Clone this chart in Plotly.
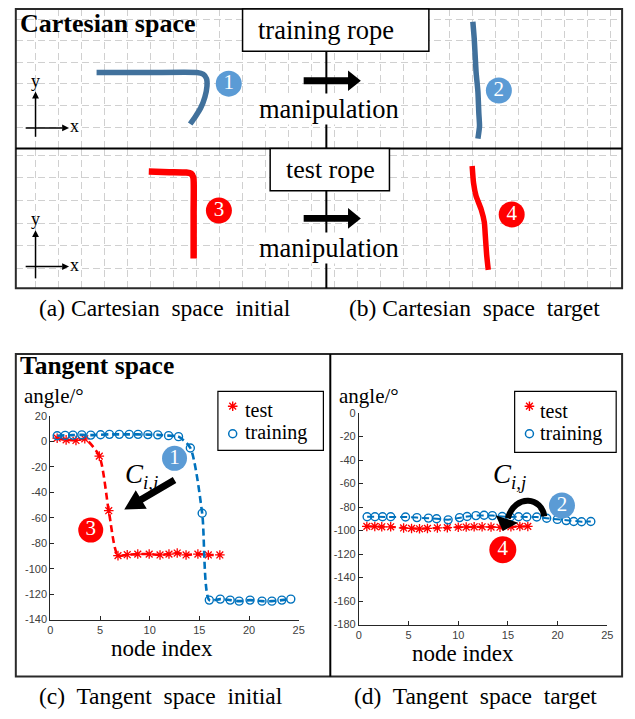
import math
import plotly.graph_objects as go

W, H = 635, 719

# ---------------- data ----------------
# Cartesian space ropes (grid-cell units, x to the right, y downward)
train_init_x = [2.64, 5.00, 7.00, 7.28, 7.42, 7.44, 7.35, 7.17, 6.94, 6.71]
train_init_y = [2.47, 2.47, 2.47, 2.55, 2.75, 3.10, 3.60, 4.10, 4.50, 4.85]
train_target_x = [19.00, 19.06, 19.14, 19.22, 19.26, 19.29, 19.22]
train_target_y = [0.12, 0.90, 2.44, 3.35, 4.35, 4.95, 5.53]
test_init_x = [4.91, 5.80, 6.54, 6.75, 6.85, 6.86, 6.86]
test_init_y = [0.72, 0.75, 0.77, 0.82, 1.00, 2.50, 4.57]
test_target_x = [18.97, 19.03, 19.14, 19.36, 19.50, 19.54, 19.60, 19.67]
test_target_y = [0.48, 1.23, 1.81, 2.39, 2.97, 3.53, 4.40, 5.07]

# Tangent space initial (c)
c_test_x = [0.69, 1.59, 2.58, 3.47, 4.93, 5.88, 6.81, 7.74, 8.80, 9.95, 11.04,
            11.94, 12.77, 13.66, 14.85, 15.90, 17.06]
c_test_y = [2.6, 1.3, 0.8, 2.1, -11.5, -54.4, -89.7, -89.0, -88.5, -88.5, -89.2,
            -88.5, -87.7, -89.2, -88.5, -89.2, -89.2]
c_train_x = [0.69, 1.49, 2.28, 3.17, 4.07, 5.06, 5.95, 6.94, 7.94, 8.83, 9.82,
             10.81, 11.90, 12.90, 14.09, 15.28, 16.00, 17.10, 18.10, 19.00,
             20.10, 21.30, 22.30, 23.30, 24.20]
c_train_y = [4.5, 4.8, 5.0, 5.2, 5.0, 5.3, 5.6, 5.6, 5.6, 5.6, 5.4, 5.2, 4.6,
             3.8, -5.1, -56.4, -124.7, -123.9, -124.7, -125.5, -124.7, -125.5,
             -125.5, -124.7, -123.9]

# Tangent space target (d)
d_test_x = [0.8, 1.6, 2.3, 3.2, 4.5, 5.3, 6.1, 6.9, 7.9, 8.9, 10.0, 10.8, 11.6,
            12.4, 13.3, 14.2, 15.3, 16.2, 17.0]
d_test_y = [-96.5, -96.5, -96.8, -96.8, -97.8, -98.2, -98.5, -98.2, -97.8,
            -97.5, -97.2, -97.0, -96.8, -96.8, -97.0, -97.2, -96.8, -96.5, -96.5]
d_train_x = [0.83, 1.62, 2.38, 3.20, 4.69, 5.84, 7.00, 7.82, 8.98, 10.13, 10.89,
             11.78, 12.60, 13.43, 14.42, 15.25, 16.07, 16.90, 17.90, 18.90,
             19.97, 20.86, 21.62, 22.41, 23.34]
d_train_y = [-88.3, -88.3, -88.3, -88.3, -88.5, -89.0, -89.4, -90.0, -90.9,
             -89.0, -88.0, -87.3, -87.0, -87.3, -88.0, -88.5, -88.3, -88.5,
             -88.5, -89.5, -90.5, -91.5, -92.3, -92.5, -92.3]

x_ticks = [0, 5, 10, 15, 20, 25]
x_ticklabels = ["0", "5", "10", "15", "20", "25"]
c_yticks = [20, 0, -20, -40, -60, -80, -100, -120, -140]
c_yticklabels = ["20", "0", "-20", "-40", "-60", "-80", "-100", "-120", "-140"]
d_yticks = [0, -20, -40, -60, -80, -100, -120, -140, -160, -180]
d_yticklabels = ["0", "-20", "-40", "-60", "-80", "-100", "-120", "-140", "-160", "-180"]

legend_labels = ["test", "training"]
badge_labels = ["1", "2", "3", "4"]

# ---------------- styles ----------------
SERIF = "Liberation Serif"
SANS = "Liberation Sans"
ROPE_BLUE = "#41719C"
BADGE_BLUE = "#5B9BD5"
RED = "#FF0000"
MBLUE = "#0072BD"


def P(x, y):
    return x / W, 1 - y / H


def poly_path(pts):
    s = ""
    for i, (x, y) in enumerate(pts):
        X, Y = P(x, y)
        s += ("M" if i == 0 else "L") + f"{X:.5f},{Y:.5f} "
    return s + "Z"


def arrow_pts(S, T, w, hl, hw):
    dx, dy = T[0] - S[0], T[1] - S[1]
    L = math.hypot(dx, dy)
    ux, uy = dx / L, dy / L
    nx, ny = -uy, ux
    bx, by = T[0] - ux * hl, T[1] - uy * hl
    return [(S[0] + nx * w / 2, S[1] + ny * w / 2), (bx + nx * w / 2, by + ny * w / 2),
            (bx + nx * hw / 2, by + ny * hw / 2), T, (bx - nx * hw / 2, by - ny * hw / 2),
            (bx - nx * w / 2, by - ny * w / 2), (S[0] - nx * w / 2, S[1] - ny * w / 2)]


fig = go.Figure()

# ropes
for xs, ys, col, wd, xa, ya in [
    (train_init_x, train_init_y, ROPE_BLUE, 5.5, "x", "y"),
    (train_target_x, train_target_y, ROPE_BLUE, 5.5, "x", "y"),
    (test_init_x, test_init_y, RED, 6.5, "x2", "y2"),
    (test_target_x, test_target_y, RED, 5.5, "x2", "y2"),
]:
    fig.add_trace(go.Scatter(x=xs, y=ys, mode="lines", xaxis=xa, yaxis=ya,
                             line=dict(color=col, width=wd, shape="spline", smoothing=0.5),
                             showlegend=False, hoverinfo="skip"))

# tangent space curves
fig.add_trace(go.Scatter(x=c_test_x, y=c_test_y, mode="lines+markers", xaxis="x3", yaxis="y3",
                         line=dict(color=RED, width=2.6, dash="7px,4px", shape="spline", smoothing=0.7),
                         marker=dict(symbol="asterisk-open", size=8, color=RED, line=dict(color=RED, width=1.3)),
                         showlegend=False))
fig.add_trace(go.Scatter(x=c_train_x, y=c_train_y, mode="lines+markers", xaxis="x3", yaxis="y3",
                         line=dict(color=MBLUE, width=2.6, dash="7px,4px", shape="spline", smoothing=0.7),
                         marker=dict(symbol="circle-open", size=8, color=MBLUE, line=dict(color=MBLUE, width=1.4)),
                         showlegend=False))
fig.add_trace(go.Scatter(x=d_test_x, y=d_test_y, mode="lines+markers", xaxis="x4", yaxis="y4",
                         line=dict(color=RED, width=2.2, dash="7px,4px"),
                         marker=dict(symbol="asterisk-open", size=8, color=RED, line=dict(color=RED, width=1.3)),
                         showlegend=False))
fig.add_trace(go.Scatter(x=d_train_x, y=d_train_y, mode="lines+markers", xaxis="x4", yaxis="y4",
                         line=dict(color=MBLUE, width=2.0, dash="7px,4px"),
                         marker=dict(symbol="circle-open", size=8, color=MBLUE, line=dict(color=MBLUE, width=1.4)),
                         showlegend=False))

# decorations on a full-page pixel overlay: badges and legend symbols
badges = [  # (label index, x, y, color, size)
    (0, 229, 79, BADGE_BLUE, 26), (1, 503, 86, BADGE_BLUE, 26),
    (2, 219, 208, RED, 26), (3, 516, 212, RED, 26),
    (0, 174, 460, BADGE_BLUE, 25), (1, 567, 508, BADGE_BLUE, 26),
    (2, 89, 533, RED, 25), (3, 507, 553, RED, 27),
]
fig.add_trace(go.Scatter(x=[b[1] for b in badges], y=[b[2] for b in badges],
                         mode="markers+text", xaxis="x5", yaxis="y5",
                         marker=dict(size=[b[4] for b in badges], color=[b[3] for b in badges],
                                     opacity=1, line=dict(width=0)),
                         text=[badge_labels[b[0]] for b in badges], textposition="middle center",
                         textfont=dict(family=SERIF, size=21, color="white"),
                         showlegend=False, hoverinfo="skip", cliponaxis=False))
fig.add_trace(go.Scatter(x=[233, 534], y=[407, 407], mode="markers", xaxis="x5", yaxis="y5",
                         marker=dict(symbol="asterisk-open", size=8, color=RED, opacity=1,
                                     line=dict(color=RED, width=1.4)),
                         showlegend=False, hoverinfo="skip", cliponaxis=False))
fig.add_trace(go.Scatter(x=[233, 534], y=[435, 435], mode="markers", xaxis="x5", yaxis="y5",
                         marker=dict(symbol="circle-open", size=8, color=MBLUE, opacity=1,
                                     line=dict(color=MBLUE, width=1.5)),
                         showlegend=False, hoverinfo="skip", cliponaxis=False))

grid_common = dict(showgrid=True, gridcolor="#d0d0d0", gridwidth=1.2, griddash="7px,4px",
                   zeroline=False, showticklabels=False, ticks="", showline=False,
                   dtick=1, tick0=0, fixedrange=True)
xr = [(13 - 33.33) / 23.33, (628 - 33.33) / 23.33]
tick_font = dict(family=SANS, size=11, color="#404040")
ax_common = dict(showline=True, linecolor="#262626", linewidth=1, ticks="inside", ticklen=4,
                 tickcolor="#262626", tickfont=tick_font, showgrid=False, zeroline=False,
                 fixedrange=True, tickmode="array")

fig.update_layout(
    width=W, height=H, margin=dict(l=0, r=0, t=0, b=0),
    paper_bgcolor="white", plot_bgcolor="rgba(0,0,0,0)", showlegend=False,
    xaxis=dict(domain=[13 / W, 628 / W], range=xr, anchor="y", **grid_common),
    yaxis=dict(domain=[1 - 145 / H, 1 - 3 / H], range=[(145 - 13.3) / 22, (3 - 13.3) / 22],
               anchor="x", **grid_common),
    xaxis2=dict(domain=[13 / W, 628 / W], range=xr, anchor="y2", **grid_common),
    yaxis2=dict(domain=[1 - 287 / H, 1 - 145 / H], range=[(287 - 151.7) / 23, (145 - 151.7) / 23],
                anchor="x2", **grid_common),
    xaxis3=dict(domain=[48 / W, 300 / W], range=[0, 25], anchor="y3", tickvals=x_ticks,
                ticktext=x_ticklabels, **ax_common),
    yaxis3=dict(domain=[1 - 624 / H, 1 - 417 / H], range=[-140, 20], anchor="x3",
                tickvals=c_yticks, ticktext=c_yticklabels, **ax_common),
    xaxis4=dict(domain=[361 / W, 613 / W], range=[0, 25], anchor="y4", tickvals=x_ticks,
                ticktext=x_ticklabels, **ax_common),
    yaxis4=dict(domain=[1 - 629 / H, 1 - 414 / H], range=[-180, 0], anchor="x4",
                tickvals=d_yticks, ticktext=d_yticklabels, **ax_common),
    xaxis5=dict(domain=[0, 1], range=[0, W], anchor="y5", visible=False, fixedrange=True),
    yaxis5=dict(domain=[0, 1], range=[H, 0], anchor="x5", visible=False, fixedrange=True),
)

shapes = []


def rect(x0, y0, x1, y1, width=2, color="#2a2a2a", fill=None):
    X0, Y0 = P(x0, y0)
    X1, Y1 = P(x1, y1)
    shapes.append(dict(type="rect", xref="paper", yref="paper", x0=X0, y0=Y1, x1=X1, y1=Y0,
                       line=dict(color=color, width=width),
                       fillcolor=fill if fill else "rgba(0,0,0,0)", layer="above"))


def seg(x0, y0, x1, y1, width=2, color="black"):
    X0, Y0 = P(x0, y0)
    X1, Y1 = P(x1, y1)
    shapes.append(dict(type="line", xref="paper", yref="paper", x0=X0, y0=Y0, x1=X1, y1=Y1,
                       line=dict(color=color, width=width), layer="above"))


def poly(pts, color="black"):
    shapes.append(dict(type="path", xref="paper", yref="paper", path=poly_path(pts),
                       fillcolor=color, line=dict(width=0), layer="above"))


# top panel frame
rect(13, 3, 628, 287)
seg(13, 145, 628, 145)
seg(328, 46, 328, 287)
rect(243, 3, 432, 46, width=1.5, color="black", fill="white")
rect(271, 145, 392, 188, width=1.5, color="black", fill="white")
# manipulation arrows
poly(arrow_pts((305, 76), (363, 76), 7, 13, 21))
poly(arrow_pts((305, 216), (363, 216), 7, 13, 21))
# xy icons
for oy, vy0, vy1 in [(124, 133, 87), (265, 277, 228)]:
    seg(33, vy0, 33, vy1 + 6, width=1.5)
    poly(arrow_pts((33, vy1 + 8), (33, vy1), 0.1, 7, 7))
    seg(23, oy, 60, oy, width=1.5)
    poly(arrow_pts((58, oy), (67, oy), 0.1, 7, 7))

# bottom panel frame
rect(13, 354, 628, 682)
seg(332, 354, 332, 682)
rect(218, 392, 325, 452, width=1.2, color="black")
rect(519, 392, 622, 454, width=1.2, color="black")
# C_ij arrow in (c)
poly(arrow_pts((174, 482), (123, 512), 7, 20, 22))
# curved arrow in (d)
pts = [(549, 519), (547, 500), (520, 495), (512, 521)]
pp = [P(*p) for p in pts]
shapes.append(dict(type="path", xref="paper", yref="paper",
                   path=f"M{pp[0][0]:.5f},{pp[0][1]:.5f} C{pp[1][0]:.5f},{pp[1][1]:.5f} "
                        f"{pp[2][0]:.5f},{pp[2][1]:.5f} {pp[3][0]:.5f},{pp[3][1]:.5f}",
                   line=dict(color="black", width=6), layer="above"))
poly(arrow_pts((512, 519), (507, 534), 0.1, 13, 24))

fig.update_layout(shapes=shapes)

annotations = []


def text(s, x, y, size, xanchor="center", bg=None, color="black", family=SERIF):
    X, Y = P(x, y)
    d = dict(text=s, x=X, y=Y, xref="paper", yref="paper", xanchor=xanchor, yanchor="middle",
             showarrow=False, font=dict(family=family, size=size, color=color), borderpad=0)
    if bg:
        d["bgcolor"] = bg
    annotations.append(d)


text("<b>Cartesian space</b>", 16, 18, 26, xanchor="left")
text("training rope", 328, 24, 26.5)
text("manipulation", 331, 105, 26.5, bg="white")
text("test rope", 332, 166, 26)
text("manipulation", 331, 246, 26.5, bg="white")
text("y", 33, 76, 18)
text("x", 73, 122, 18)
text("y", 33, 217, 18)
text("x", 73, 263, 18)
text("(a) Cartesian  space  initial", 164, 307, 23.5)
text("(b) Cartesian  space  target", 478, 307, 23.5)

text("<b>Tangent space</b>", 16, 366, 25.5, xanchor="left")
text("angle/°", 20, 397, 21, xanchor="left")
text("angle/°", 340, 397, 21, xanchor="left")
text("node index", 161, 653, 23)
text("node index", 467, 658, 23)
text(legend_labels[0], 244, 411, 20, xanchor="left")
text(legend_labels[1], 244, 434, 20, xanchor="left")
text(legend_labels[0], 544, 412, 20, xanchor="left")
text(legend_labels[1], 544, 435, 20, xanchor="left")
text("<i>C</i><sub><i>i,j</i></sub>", 140, 478, 27)
text("<i>C</i><sub><i>i,j</i></sub>", 514, 478, 27)
text("(c)  Tangent  space  initial", 160, 702, 23.5)
text("(d)  Tangent  space  target", 479, 702, 23.5)

fig.update_layout(annotations=annotations)

fig.write_html("out.html", config={"displayModeBar": False},
               post_script="document.body.style.margin='0';")
